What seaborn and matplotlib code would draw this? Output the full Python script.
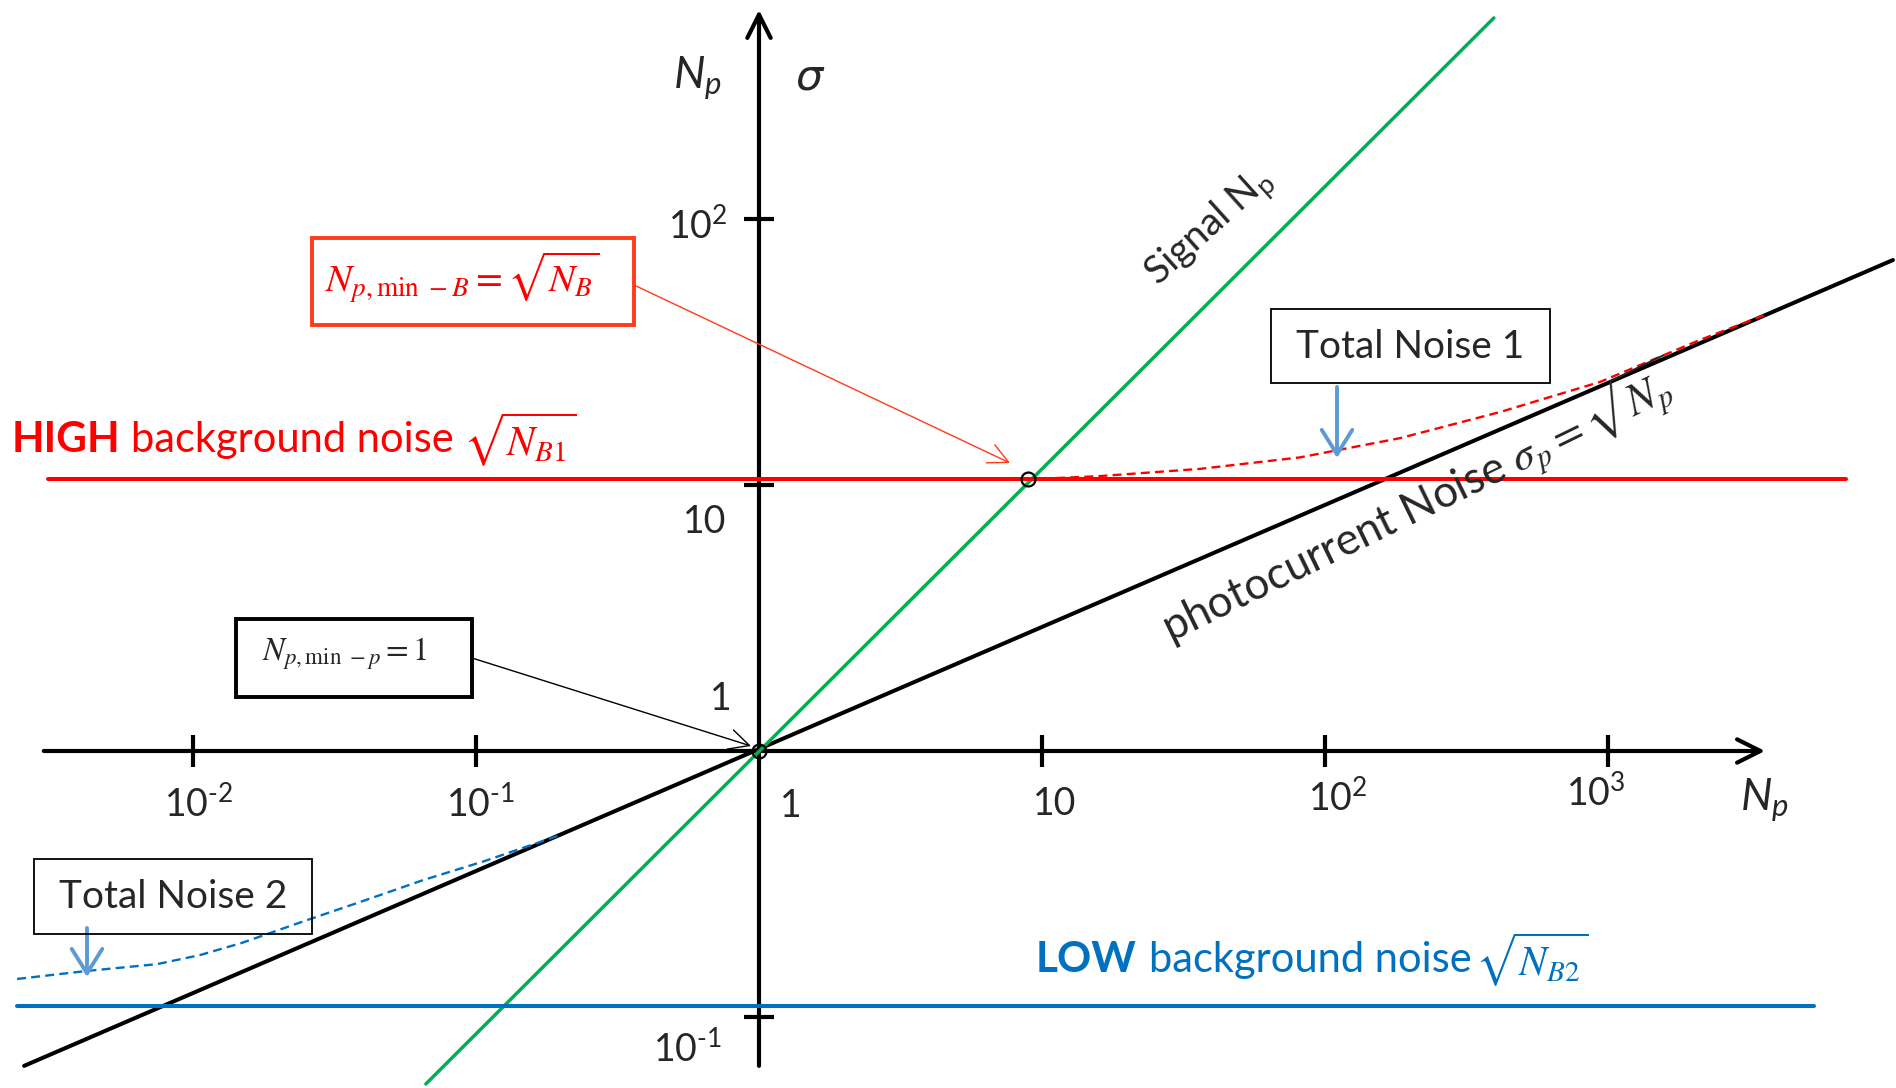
import matplotlib
matplotlib.use("Agg")
import matplotlib.pyplot as plt
from matplotlib.patches import Rectangle
import seaborn as sns

# ---------------- data (photon number N_p vs. noise sigma, log-log) ----------------
signal_np = [0.0665, 395.0]
signal_val = [0.056, 570.0]

shot_np = [0.00253, 10160.0]
shot_sigma = [0.0655, 70.1]

high_bg_np = [0.00308, 6930.0]
high_bg_sigma = [10.5, 10.5]

low_bg_np = [0.00239, 5350.0]
low_bg_sigma = [0.11, 0.11]

total1_np = [8.9, 16.0, 36.2, 81.6, 184.0, 415.0, 937.0, 2113.0, 3589.0]
total1_sigma = [10.5, 10.8, 11.5, 12.7, 15.0, 18.8, 24.4, 35.1, 43.6]

total2_np = [0.00239, 0.00422, 0.00746, 0.0106, 0.0149, 0.0243, 0.0399, 0.0650, 0.1067, 0.196]
total2_sigma = [0.139, 0.149, 0.158, 0.171, 0.190, 0.228, 0.273, 0.327, 0.385, 0.481]

marked_np = [1.0, 8.9]
marked_sigma = [1.0, 10.5]

HY = "\u2010"  # short hyphen used in the exponents
x_ticks = [1e-2, 1e-1, 1e1, 1e2, 1e3]
y_ticks = [1e-1, 1e1, 1e2]
x_tick_labels = [rf"$\mathregular{{10^{{{HY}2}}}}$", rf"$\mathregular{{10^{{{HY}1}}}}$", "1", "10",
                 r"$\mathregular{10^{2}}$", r"$\mathregular{10^{3}}$"]
x_label_at = [1e-2, 1e-1, 1.0, 1e1, 1e2, 1e3]
y_tick_labels = [r"$\mathregular{10^{2}}$", "10", "1", rf"$\mathregular{{10^{{{HY}1}}}}$"]
y_label_at = [1e2, 1e1, 1.0, 1e-1]

# ---------------- style ----------------
sns.set_theme(style="white")
plt.rcParams["font.family"] = ["Lato", "DejaVu Sans"]
plt.rcParams["mathtext.fontset"] = "custom"
plt.rcParams["mathtext.rm"] = "Lato"
plt.rcParams["mathtext.it"] = "Lato:italic"
plt.rcParams["mathtext.bf"] = "Lato:bold"

GREEN = "#00B050"
RED = "#FF0000"
BOX_RED = "#FF3B1A"
BLUE = "#0070C0"
ARROW_BLUE = "#5B9BD5"

W, H = 1896, 1088
fig = plt.figure(figsize=(W / 100, H / 100), dpi=100)
ax = fig.add_axes([0, 0, 1, 1])
ax.set_xscale("log")
ax.set_yscale("log")
# origin (N_p = 1, sigma = 1) sits at pixel (759, 751); 283 px per decade in x, 266 in y
ax.set_xlim(10 ** (-759 / 283), 10 ** ((W - 759) / 283))
ax.set_ylim(10 ** (-(H - 751) / 266), 10 ** (751 / 266))
ax.axis("off")


def fp(x, y):
    """pixel position measured from the top-left corner -> figure fraction"""
    return x / W, 1 - y / H


# ---------------- axes with arrow heads ----------------
axis_kw = dict(arrowstyle="->,head_length=0.7,head_width=0.35", lw=3.0, color="black",
               shrinkA=0, shrinkB=0, mutation_scale=24)
ax.annotate("", xy=(3589, 1), xytext=(0.00297, 1), arrowprops=axis_kw, zorder=2)
ax.annotate("", xy=(1, 611), xytext=(1, 0.0655), arrowprops=axis_kw, zorder=2)
ax.plot(x_ticks, [1] * len(x_ticks), ls="none", marker="|", ms=23, mew=3.0, color="black")
ax.plot([1] * len(y_ticks), y_ticks, ls="none", marker="_", ms=22, mew=3.0, color="black")

# ---------------- curves ----------------
sns.lineplot(x=shot_np, y=shot_sigma, ax=ax, color="black", lw=2.9, estimator=None)
sns.lineplot(x=signal_np, y=signal_val, ax=ax, color=GREEN, lw=2.5, estimator=None)
sns.lineplot(x=high_bg_np, y=high_bg_sigma, ax=ax, color=RED, lw=2.9, estimator=None)
sns.lineplot(x=low_bg_np, y=low_bg_sigma, ax=ax, color=BLUE, lw=2.9, estimator=None)
sns.lineplot(x=total1_np, y=total1_sigma, ax=ax, color=RED, lw=1.7, estimator=None,
             dashes=False, linestyle=(0, (3.8, 2.2)))
sns.lineplot(x=total2_np, y=total2_sigma, ax=ax, color=BLUE, lw=1.7, estimator=None,
             dashes=False, linestyle=(0, (3.8, 2.2)))
ax.plot(marked_np, marked_sigma, ls="none", marker="o", ms=10, mfc="none", mec="black", mew=1.6,
        zorder=5)

# ---------------- tick labels ----------------
x_offsets = [(6, -53), (4, -53), (32, -55), (13, -53), (13, -47), (-12, -42)]
for v, lab, off in zip(x_label_at, x_tick_labels, x_offsets):
    ax.annotate(lab, xy=(v, 1), xytext=off, textcoords="offset pixels",
                ha="center", va="center", fontsize=27)
y_offsets = [(-61, -7), (-54, -37), (-38, 52), (-72, -32)]
for v, lab, off in zip(y_label_at, y_tick_labels, y_offsets):
    ax.annotate(lab, xy=(1, v), xytext=off, textcoords="offset pixels",
                ha="center", va="center", fontsize=27)

# axis titles
fig.text(*fp(697, 78), r"$N_p$", ha="center", va="center", fontsize=32)
fig.text(*fp(810, 78), r"$\sigma$", ha="center", va="center", fontsize=31,
         math_fontfamily="dejavusans")
fig.text(*fp(1764, 800), r"$N_p$", ha="center", va="center", fontsize=32)

# ---------------- background noise labels ----------------
fig.text(*fp(12, 440), "HIGH", ha="left", va="center", fontsize=30.5, color=RED,
         fontweight="bold")
fig.text(*fp(131, 440), "background noise", ha="left", va="center", fontsize=30, color=RED)
fig.text(*fp(463, 440), r"$\sqrt{N_{B1}}$", ha="left", va="center", fontsize=30, color=RED,
         math_fontfamily="stix")

fig.text(*fp(1036, 960), "LOW", ha="left", va="center", fontsize=30.5, color=BLUE,
         fontweight="bold")
fig.text(*fp(1149, 960), "background noise", ha="left", va="center", fontsize=30, color=BLUE)
fig.text(*fp(1475, 960), r"$\sqrt{N_{B2}}$", ha="left", va="center", fontsize=30, color=BLUE,
         math_fontfamily="stix")

# ---------------- rotated line labels ----------------
fig.text(*fp(1211, 228), r"Signal $\mathregular{N_p}$", ha="center", va="center",
         fontsize=28, rotation=42, rotation_mode="anchor")
fig.text(*fp(1420, 503), r"photocurrent Noise $\sigma_p = \sqrt{N_p}$", ha="center",
         va="center", fontsize=31.5, rotation=26, rotation_mode="anchor",
         math_fontfamily="stix")


# ---------------- boxes and call-outs ----------------
def box(x0, y0, x1, y1, color, lw):
    fig.add_artist(Rectangle(fp(x0, y1), (x1 - x0) / W, (y1 - y0) / H,
                             transform=fig.transFigure, fill=False, ec=color, lw=lw,
                             zorder=4))


box(312, 238, 634, 325, BOX_RED, 2.8)
fig.text(*fp(462, 277), r"$N_{p,\mathrm{min}\ -B}=\sqrt{N_B}$", ha="center", va="center",
         fontsize=28, color=RED, math_fontfamily="stix")
ax.annotate("", xy=(1010, H - 463), xytext=(634, H - 285), xycoords="figure pixels",
            textcoords="figure pixels",
            arrowprops=dict(arrowstyle="->,head_length=0.8,head_width=0.4", lw=1.0,
                            color=BOX_RED, shrinkA=0, shrinkB=0, mutation_scale=18))

box(236, 619, 472, 697, "black", 2.8)
fig.text(*fp(345, 654), r"$N_{p,\mathrm{min}\ -p}=1$", ha="center", va="center",
         fontsize=23.5, math_fontfamily="stix")
ax.annotate("", xy=(751, H - 746), xytext=(472, H - 658), xycoords="figure pixels",
            textcoords="figure pixels",
            arrowprops=dict(arrowstyle="->,head_length=0.8,head_width=0.4", lw=1.0,
                            color="black", shrinkA=0, shrinkB=0, mutation_scale=18))

box(1271, 309, 1550, 383, "black", 1.3)
fig.text(*fp(1410, 347), "Total Noise 1", ha="center", va="center", fontsize=28)
ax.annotate("", xy=(1337, H - 458), xytext=(1337, H - 387), xycoords="figure pixels",
            textcoords="figure pixels",
            arrowprops=dict(arrowstyle="->,head_length=0.8,head_width=0.5", lw=2.8,
                            color=ARROW_BLUE, shrinkA=0, shrinkB=0, mutation_scale=22))

box(34, 859, 312, 934, "black", 1.3)
fig.text(*fp(173, 897), "Total Noise 2", ha="center", va="center", fontsize=28)
ax.annotate("", xy=(87, H - 977), xytext=(87, H - 928), xycoords="figure pixels",
            textcoords="figure pixels",
            arrowprops=dict(arrowstyle="->,head_length=0.8,head_width=0.5", lw=2.8,
                            color=ARROW_BLUE, shrinkA=0, shrinkB=0, mutation_scale=22))

fig.savefig("out.png", dpi=100, facecolor="white")
